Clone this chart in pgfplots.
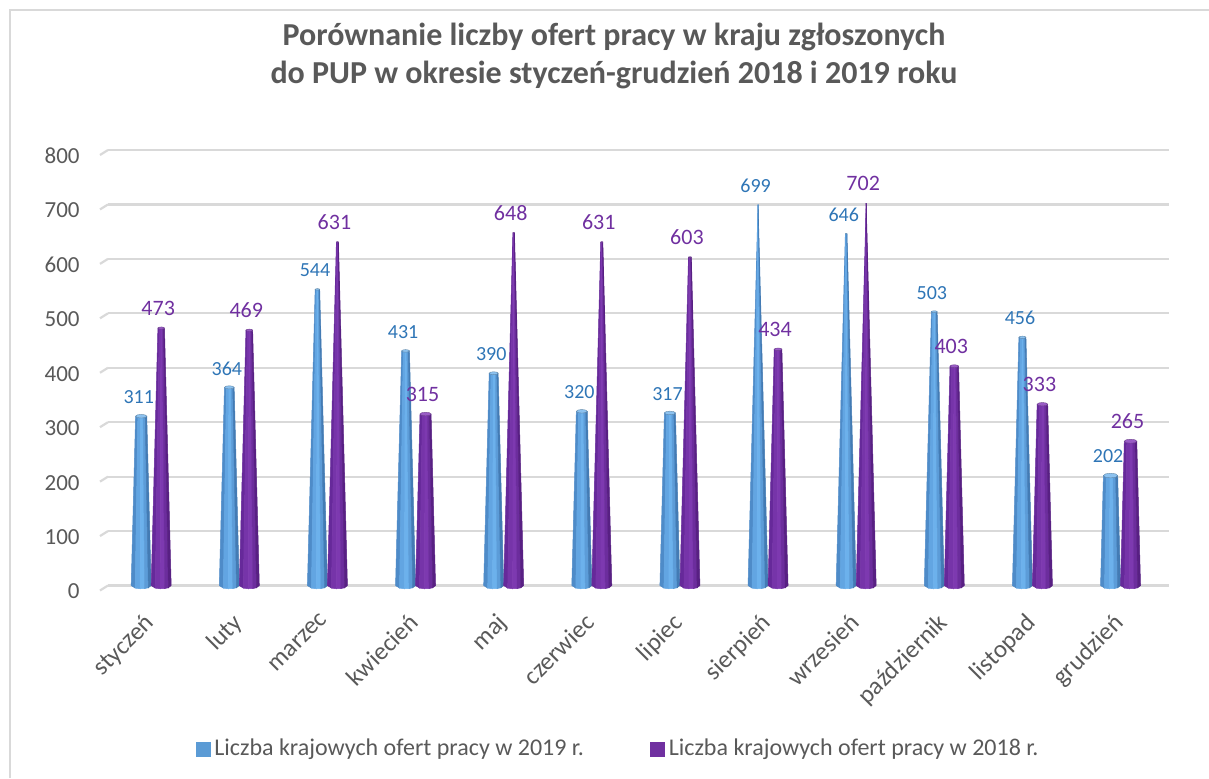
\documentclass[border=0pt]{standalone}
\usepackage{fontspec}
\setmainfont{Carlito}
\usepackage{pgfplots}
\usepackage{pgfplotstable}
\pgfplotsset{compat=1.18}

\definecolor{txt}{HTML}{595959}
\definecolor{gridc}{HTML}{D9D9D9}
\definecolor{blueA}{HTML}{5B9BD5}
\definecolor{blueLab}{HTML}{2E75B6}
\definecolor{purA}{HTML}{7030A0}
% odcienie stożków (od lewej do prawej)
\definecolor{b1}{HTML}{4E8BC8}
\definecolor{b2}{HTML}{62A5E2}
\definecolor{b3}{HTML}{6CB1EC}
\definecolor{b4}{HTML}{5C9CD8}
\definecolor{b5}{HTML}{437BB4}
\definecolor{bt}{HTML}{8CC2F0}
\definecolor{p1}{HTML}{66299A}
\definecolor{p2}{HTML}{7634A9}
\definecolor{p3}{HTML}{7D39B0}
\definecolor{p4}{HTML}{6C2D9D}
\definecolor{p5}{HTML}{582083}
\definecolor{pt}{HTML}{9A5CC6}

% oferty pracy: 2019 (niebieski), 2018 (fioletowy)
\pgfplotstableread{
k v2019 v2018
0 311 473
1 364 469
2 544 631
3 431 315
4 390 648
5 320 631
6 317 603
7 699 434
8 646 702
9 503 403
10 456 333
11 202 265
}\oferty

% pas stożka między ułamkami szerokości #1 i #2, kolor #3
\newcommand\pas[3]{%
  \pgfmathsetmacro\pXa{\sX+(#1)*\sWb}%
  \pgfmathsetmacro\pXb{\sX+(#2)*\sWb}%
  \pgfmathsetmacro\pTa{\sX+(#1)*\sWt}%
  \pgfmathsetmacro\pTb{\sX+(#2)*\sWt}%
  \pgfmathsetmacro\pYa{-\sEb*sqrt(max(0,1-(#1)^2))}%
  \pgfmathsetmacro\pYb{-\sEb*sqrt(max(0,1-(#2)^2))}%
  \addplot[forget plot, fill=#3, draw=#3, line width=0.25pt]
    coordinates {(\pXa,\pYa) (\pTa,\sV) (\pTb,\sV) (\pXb,\pYb)} -- cycle;
}
% stożek ścięty: #1 środek, #2 wartość, #3 prefiks kolorów
\newcommand\stozek[3]{%
  \pgfmathsetmacro\sX{#1}%
  \pgfmathsetmacro\sV{#2}%
  \pgfmathsetmacro\sWb{0.1135}%
  \pgfmathsetmacro\sWt{\sWb*max(0,1-\sV/705)}%
  \pgfmathsetmacro\sEb{6}%
  \pgfmathsetmacro\sEt{\sEb*\sWt/\sWb}%
  \pas{-1}{-0.6}{#31}%
  \pas{-0.6}{-0.1}{#32}%
  \pas{-0.1}{0.35}{#33}%
  \pas{0.35}{0.72}{#34}%
  \pas{0.72}{1}{#35}%
  \pgfmathsetmacro\sTl{\sX-\sWt}%
  \pgfmathsetmacro\sTr{\sX+\sWt}%
  \pgfmathsetmacro\sTll{\sX-0.707*\sWt}%
  \pgfmathsetmacro\sTrr{\sX+0.707*\sWt}%
  \pgfmathsetmacro\sUa{\sV+0.707*\sEt}%
  \pgfmathsetmacro\sUb{\sV+\sEt}%
  \pgfmathsetmacro\sDa{\sV-0.707*\sEt}%
  \pgfmathsetmacro\sDb{\sV-\sEt}%
  \addplot[forget plot, draw=#3t!70!black, line width=0.2pt, fill=#3t]
    coordinates {(\sTl,\sV) (\sTll,\sUa) (\sX,\sUb) (\sTrr,\sUa) (\sTr,\sV)
                 (\sTrr,\sDa) (\sX,\sDb) (\sTll,\sDa)} -- cycle;
}

\begin{document}
\begin{tikzpicture}
\path[use as bounding box] (0,0) rectangle (604.5pt,389pt);
\draw[gridc, line width=0.6pt] (5pt,0) -- (5pt,384pt) -- (604.5pt,384pt);
\node[font=\fontsize{16}{19}\selectfont\bfseries, text=txt, align=center]
  at (307pt,361pt) {Porównanie liczby ofert pracy w kraju zgłoszonych\\do PUP w okresie styczeń-grudzień 2018 i 2019 roku};
\begin{axis}[
    at={(54pt,96.25pt)}, anchor=south west,
    scale only axis, width=530.5pt, height=217.75pt,
    xmin=-0.49, xmax=11.55,
    ymin=0, ymax=800,
    clip=false,
    axis line style={draw=none},
    major tick length=0pt,
    ytick={0,100,...,800},
    xtick={0,...,11},
    xticklabels={styczeń,luty,marzec,kwiecień,maj,czerwiec,lipiec,sierpień,wrzesień,październik,listopad,grudzień},
    ymajorgrids,
    grid style={draw=gridc, line width=1.1pt},
    /pgf/number format/assume math mode=true,
    yticklabel style={font=\fontsize{11.5}{13}\selectfont, text=txt, anchor=east, inner sep=0pt, yshift=-3pt},
    yticklabel shift=14pt,
    xticklabel style={font=\fontsize{12.5}{15}\selectfont, text=txt, xshift=-4pt, rotate=45, anchor=north east, inner sep=0pt},
    xticklabel shift=13pt,
    legend columns=2,
    legend cell align=left,
    legend style={at={(0.4816,-0.3754)}, anchor=center, draw=none, fill=none,
      font=\fontsize{12}{14}\selectfont, text=txt, inner sep=0pt},
]
% ukośne początki linii siatki (efekt 3D)
\pgfplotsinvokeforeach{0,100,...,800}{%
  \draw[gridc, line width=1.1pt] (axis cs:-0.49,#1) -- ++(-4pt,-2.5pt);
}
\pgfplotsinvokeforeach{0,...,11}{%
  \pgfplotstablegetelem{#1}{v2019}\of\oferty
  \let\vA\pgfplotsretval
  \pgfplotstablegetelem{#1}{v2018}\of\oferty
  \let\vB\pgfplotsretval
  \stozek{#1-0.1135}{\vA}{b}
  \stozek{#1+0.1135}{\vB}{p}
}
% etykiety danych
\addplot[forget plot, only marks, mark=*, mark size=0pt, mark options={draw=none, fill=none},
  point meta=explicit symbolic, nodes near coords,
  nodes near coords style={font=\fontsize{10}{12}\selectfont, text=blueLab, anchor=center, yshift=9.5pt, xshift=-1.2pt}]
  table[x expr=\thisrow{k}-0.1135, y=v2019, meta=v2019] {\oferty};
\addplot[forget plot, only marks, mark=*, mark size=0pt, mark options={draw=none, fill=none},
  point meta=explicit symbolic, nodes near coords,
  nodes near coords style={font=\fontsize{11}{13}\selectfont, text=purA, anchor=center, yshift=9.8pt, xshift=-1.5pt}]
  table[x expr=\thisrow{k}+0.1135, y=v2018, meta=v2018] {\oferty};
\addlegendimage{legend image code/.code={\fill[blueA] (0pt,-3.5pt) rectangle (7pt,3.5pt);}}
\addlegendentry{Liczba krajowych ofert pracy w 2019 r.\rule{31pt}{0pt}}
\addlegendimage{legend image code/.code={\fill[purA] (0pt,-3.5pt) rectangle (7pt,3.5pt);}}
\addlegendentry{Liczba krajowych ofert pracy w 2018 r.}
\end{axis}
\end{tikzpicture}
\end{document}
